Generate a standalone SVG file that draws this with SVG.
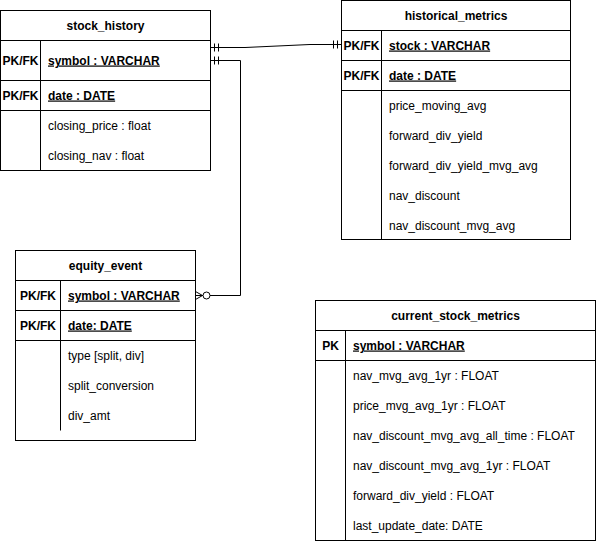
<svg xmlns="http://www.w3.org/2000/svg" width="596" height="541" viewBox="0 0 596 541">
<defs>
<style>
.box{fill:#fff;stroke:#000;stroke-width:1}
.ln{stroke:#000;stroke-width:1;fill:none}
text{font-family:"Liberation Sans",Arial,Helvetica,sans-serif;font-size:12px;fill:#000}
.t{font-weight:bold;text-anchor:middle}
.k{font-weight:bold;text-anchor:middle}
.kf{font-weight:bold;text-decoration:underline}
.edge{stroke:#000;stroke-width:1;fill:none}
</style>
<marker id="mandOne" viewBox="-14 -7 16 14" refX="0" refY="0" markerWidth="16" markerHeight="14" markerUnits="userSpaceOnUse" orient="auto-start-reverse" overflow="visible">
<path d="M-4,-4 V4 M-8,-4 V4" stroke="#000" stroke-width="1" fill="none"/>
</marker>
<marker id="zeroMany" viewBox="-16 -7 18 14" refX="0" refY="0" markerWidth="18" markerHeight="14" markerUnits="userSpaceOnUse" orient="auto" overflow="visible">
<path d="M0,-4 L-7,0 L0,4" stroke="#000" stroke-width="1" fill="none"/>
<circle cx="-11" cy="0" r="3.5" fill="#fff" stroke="#000" stroke-width="1"/>
</marker>
</defs>

<g id="connectors">
<path class="edge" d="M210.5,47.5 H245 L310,44.5 H341.5" marker-start="url(#mandOne)" marker-end="url(#mandOne)"/>
<path class="edge" d="M210.5,60.5 H240.5 V295.5 H195.5" marker-start="url(#mandOne)" marker-end="url(#zeroMany)"/>
</g>

<g id="stock_history">
<rect class="box" x="0.5" y="10.5" width="210" height="160"/>
<path class="ln" d="M0.5,40.5 H210.5 M0.5,80.5 H210.5 M0.5,110.5 H210.5 M40.5,40.5 V170.5"/>
<text class="t" x="105.5" y="29.5">stock_history</text>
<text class="k" x="20.5" y="64.5">PK/FK</text>
<text class="kf" x="48" y="64.5">symbol : VARCHAR</text>
<text class="k" x="20.5" y="99.5">PK/FK</text>
<text class="kf" x="48" y="99.5">date : DATE</text>
<text x="48" y="130">closing_price : float</text>
<text x="48" y="160">closing_nav : float</text>
</g>

<g id="historical_metrics">
<rect class="box" x="341.5" y="0.5" width="229" height="239"/>
<path class="ln" d="M341.5,30.5 H570.5 M341.5,60.5 H570.5 M341.5,90.5 H570.5 M381.5,30.5 V239.5"/>
<text class="t" x="456" y="19.5">historical_metrics</text>
<text class="k" x="361.5" y="49.5">PK/FK</text>
<text class="kf" x="389" y="49.5">stock : VARCHAR</text>
<text class="k" x="361.5" y="79.5">PK/FK</text>
<text class="kf" x="389" y="79.5">date : DATE</text>
<text x="389" y="109.5">price_moving_avg</text>
<text x="389" y="139.5">forward_div_yield</text>
<text x="389" y="169.5">forward_div_yield_mvg_avg</text>
<text x="389" y="199.5">nav_discount</text>
<text x="389" y="229.5">nav_discount_mvg_avg</text>
</g>

<g id="equity_event">
<rect class="box" x="15.5" y="250.5" width="180" height="190"/>
<path class="ln" d="M15.5,280.5 H195.5 M15.5,310.5 H195.5 M15.5,340.5 H195.5 M60.5,280.5 V430.5"/>
<text class="t" x="105.5" y="269.5">equity_event</text>
<text class="k" x="38" y="299.5">PK/FK</text>
<text class="kf" x="68" y="299.5">symbol : VARCHAR</text>
<text class="k" x="38" y="329.5">PK/FK</text>
<text class="kf" x="68" y="329.5">date: DATE</text>
<text x="68" y="359.5">type [split, div]</text>
<text x="68" y="389.5">split_conversion</text>
<text x="68" y="419.5">div_amt</text>
</g>

<g id="current_stock_metrics">
<rect class="box" x="315.5" y="300.5" width="280" height="240"/>
<path class="ln" d="M315.5,330.5 H595.5 M315.5,360.5 H595.5 M345.5,330.5 V540.5"/>
<text class="t" x="455.5" y="319.5">current_stock_metrics</text>
<text class="k" x="330.5" y="349.5">PK</text>
<text class="kf" x="353" y="349.5">symbol : VARCHAR</text>
<text x="353" y="379.5">nav_mvg_avg_1yr : FLOAT</text>
<text x="353" y="409.5">price_mvg_avg_1yr : FLOAT</text>
<text x="353" y="439.5">nav_discount_mvg_avg_all_time : FLOAT</text>
<text x="353" y="469.5">nav_discount_mvg_avg_1yr : FLOAT</text>
<text x="353" y="499.5">forward_div_yield : FLOAT</text>
<text x="353" y="529.5">last_update_date: DATE</text>
</g>
</svg>
